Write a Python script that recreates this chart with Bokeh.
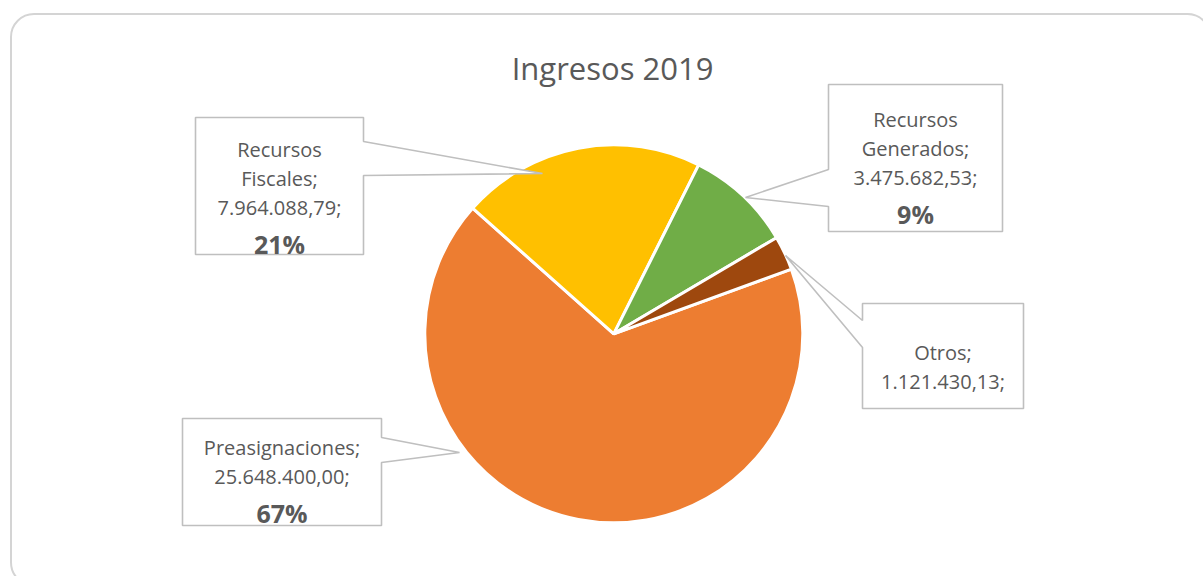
import math
from bokeh.plotting import figure
from bokeh.models import Range1d, BoxAnnotation, ColumnDataSource
from bokeh.embed import file_html
from bokeh.resources import INLINE
from bokeh.core.properties import value

# ---------------- data ----------------
title_text = "Ingresos 2019"
categories = ["Preasignaciones", "Recursos Fiscales", "Recursos Generados", "Otros"]
amounts = [25648400.00, 7964088.79, 3475682.53, 1121430.13]
colors = ["#ED7D31", "#FFC000", "#70AD47", "#9E480E"]
show_percent = [True, True, True, False]
first_slice_angle = 70  # degrees clockwise from 12 o'clock

# ---------------- layout (image pixel coords) ----------------
W, H = 1203, 576
def Y(y):
    return H - y

cx, cy, radius = 613.3, 333.3, 189
# box: left, top, right, bottom ; callout side; notch y1,y2 ; tip ; first baseline
label_layout = [
    dict(box=(182, 418, 381, 525), side="right", notch=(437, 462), tip=(459, 452), base=447),
    dict(box=(195, 117, 363, 254), side="right", notch=(141, 175), tip=(542, 173), base=149),
    dict(box=(828, 84, 1002, 231), side="left", notch=(169, 206), tip=(745, 197), base=119),
    dict(box=(862, 303, 1023, 408), side="left", notch=(320, 347), tip=(785, 255), base=352),
]
line_h = 29
bold_gap = 36
FONT = "Open Sans"
TXT = "#595959"

def fmt_es(v):
    s = f"{v:,.2f}"
    return s.replace(",", "X").replace(".", ",").replace("X", ".")

total = sum(amounts)

# ---------------- figure ----------------
p = figure(width=W, height=H, x_range=Range1d(0, W), y_range=Range1d(0, H),
           output_backend="svg", toolbar_location=None, min_border=0,
           x_axis_type=None, y_axis_type=None)
p.grid.visible = False
p.outline_line_color = None
p.background_fill_color = "white"
p.border_fill_color = "white"

# chart-area border
p.add_layout(BoxAnnotation(left=10.5, right=1210, top=Y(13.5), bottom=Y(585),
                           border_radius=23, fill_alpha=0, line_color="#d4d4d4",
                           line_alpha=1.0, line_width=2))

# pie wedges
starts, ends = [], []
a = first_slice_angle
for v in amounts:
    span = v / total * 360
    starts.append(math.radians(90 - a))
    ends.append(math.radians(90 - (a + span)))
    a += span
src = ColumnDataSource(dict(start=starts, end=ends, color=colors,
                            x=[cx] * len(amounts), y=[Y(cy)] * len(amounts)))
p.wedge(x="x", y="y", radius=radius, start_angle="start", end_angle="end",
        direction="clock", fill_color="color", line_color="white", line_width=3,
        source=src)

# label boxes with callouts
xs, ys = [], []
nx, ny, nt = [], [], []
bx, by, bt = [], [], []
for i, lay in enumerate(label_layout):
    l, t, r, b = lay["box"]
    n1, n2 = lay["notch"]
    tx, ty = lay["tip"]
    if lay["side"] == "right":
        pts = [(l, t), (r, t), (r, n1), (tx, ty), (r, n2), (r, b), (l, b)]
    else:
        pts = [(l, t), (r, t), (r, b), (l, b), (l, n2), (tx, ty), (l, n1)]
    xs.append([q[0] for q in pts])
    ys.append([Y(q[1]) for q in pts])

    words = categories[i].split(" ")
    lines = words[:-1] + [words[-1] + ";"]
    lines.append(fmt_es(amounts[i]) + ";")
    xc = (l + r) / 2
    yb = lay["base"]
    for k, ln in enumerate(lines):
        nx.append(xc)
        ny.append(Y(yb + k * line_h))
        nt.append(ln)
    if show_percent[i]:
        pct = f"{round(amounts[i] / total * 100)}%"
        bx.append(xc)
        by.append(Y(yb + (len(lines) - 1) * line_h + bold_gap))
        bt.append(pct)

p.patches(xs=xs, ys=ys, fill_color="white", line_color="#bfbfbf", line_width=1.6)

p.text(x=nx, y=ny, text=nt, text_align="center", text_baseline="alphabetic",
       text_font=value(FONT), text_font_size="20px", text_color=TXT)
p.text(x=bx, y=by, text=bt, text_align="center", text_baseline="alphabetic",
       text_font=value(FONT), text_font_size="25px", text_font_style="bold",
       text_color=TXT)

# title
p.text(x=[612], y=[Y(67)], text=[title_text], text_align="center",
       text_baseline="alphabetic", text_font=value(FONT), text_font_size="31px",
       text_color=TXT)

open("out.html", "w").write(file_html(p, INLINE))
